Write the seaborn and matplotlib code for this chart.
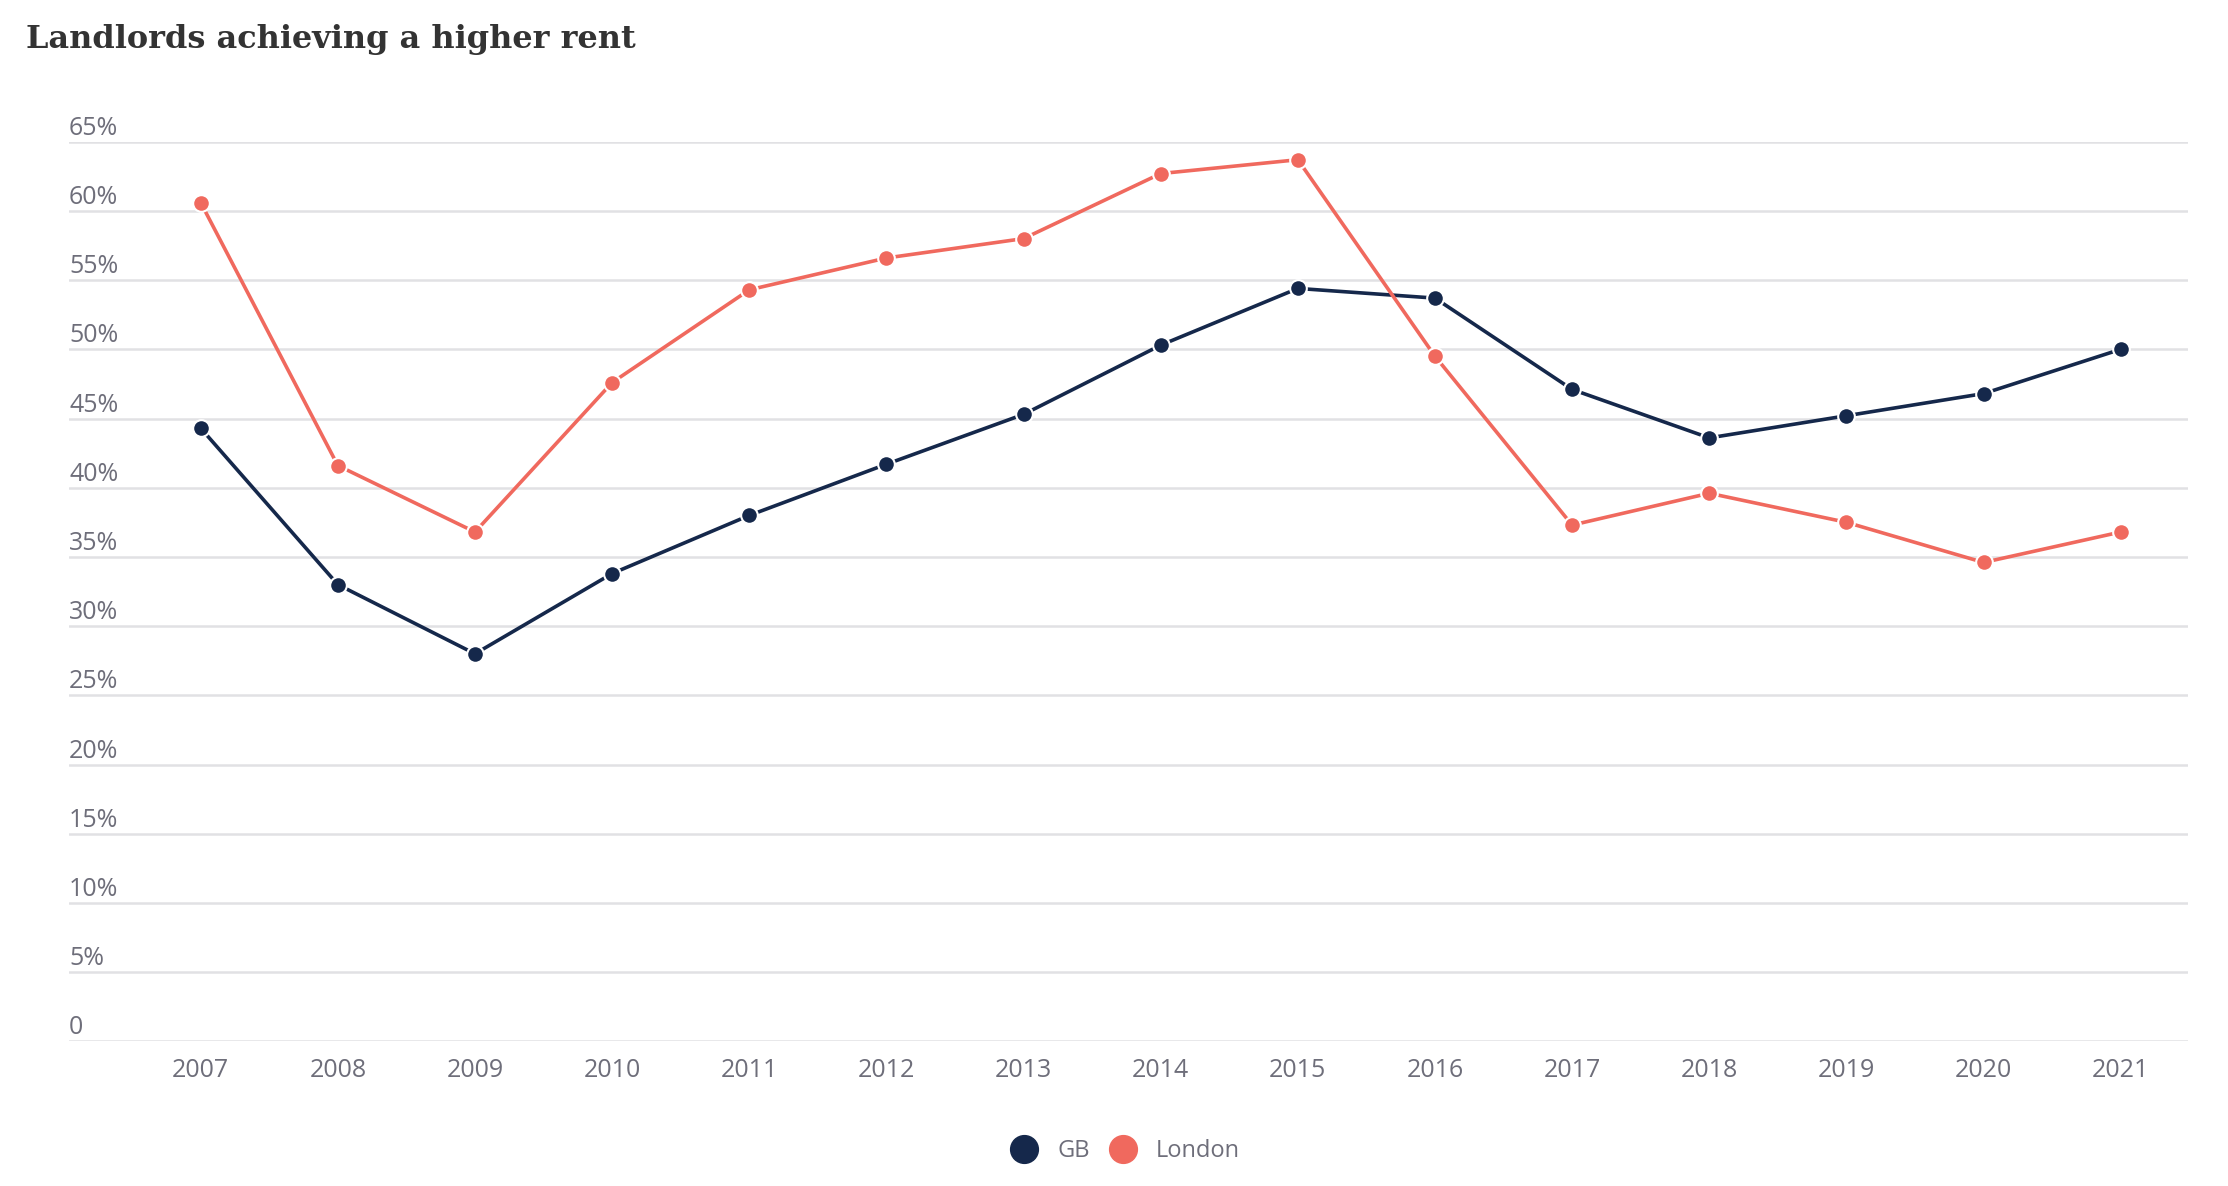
import pandas as pd
import matplotlib.pyplot as plt
import matplotlib.transforms as mtransforms
from matplotlib.lines import Line2D
import seaborn as sns

# Данные с графика (доля арендодателей, %)
years = list(range(2007, 2022))
gb = [44.3, 33.0, 28.0, 33.8, 38.0, 41.7, 45.3, 50.3, 54.4, 53.7, 47.1, 43.6, 45.2, 46.8, 50.0]
london = [60.6, 41.6, 36.8, 47.6, 54.3, 56.6, 58.0, 62.7, 63.7, 49.5, 37.3, 39.6, 37.5, 34.6, 36.8]
y_ticks = list(range(0, 70, 5))
y_labels = ['0'] + [f'{v}%' for v in y_ticks[1:]]

df = pd.DataFrame({
    'year': years * 2,
    'value': gb + london,
    'region': ['GB'] * len(years) + ['London'] * len(years),
})

colors = {'GB': '#15284b', 'London': '#f0695e'}
tick_color = '#6e6e7a'

sns.set_theme(style='white')
plt.rcParams['font.family'] = ['Open Sans', 'DejaVu Sans']

fig = plt.figure(figsize=(22.28, 11.86), dpi=100)
ax = fig.add_axes([0.031, 0.122, 0.951, 0.7585])

# Сетка
for v in y_ticks:
    ax.axhline(v, color='#e1e1e4', lw=1.8, zorder=0)

sns.lineplot(data=df, x='year', y='value', hue='region', palette=colors,
             marker='o', markersize=12, markeredgecolor='white', markeredgewidth=1.5,
             linewidth=2.6, legend=False, ax=ax, zorder=3)

ax.set_xlim(2006.04, 2021.49)
ax.set_ylim(0, 65)
ax.set_xticks(years)
ax.set_xticklabels([str(y) for y in years], fontsize=18, color=tick_color)
ax.tick_params(axis='x', length=0, pad=12)
ax.set_yticks([])
ax.set_xlabel('')
ax.set_ylabel('')
for s in ax.spines.values():
    s.set_visible(False)

# Подписи оси Y над линиями сетки
trans = mtransforms.blended_transform_factory(ax.transAxes, ax.transData)
offset = mtransforms.offset_copy(trans, fig=fig, x=0, y=1, units='dots')
for v, lab in zip(y_ticks, y_labels):
    ax.text(0, v, lab, transform=offset, ha='left', va='bottom',
            fontsize=18, color=tick_color, clip_on=False)

fig.text(0.0117, 0.967, 'Landlords achieving a higher rent', fontsize=23,
         fontweight='bold', family='DejaVu Serif', color='#333333', va='center', ha='left')

handles = [Line2D([], [], ls='none', marker='o', markersize=20,
                  markerfacecolor=colors[k], markeredgecolor=colors[k]) for k in colors]
fig.legend(handles, list(colors), loc='center', bbox_to_anchor=(0.505, 0.0295),
           ncol=2, frameon=False, fontsize=17, labelcolor=tick_color,
           handletextpad=0.8, columnspacing=0.8, handlelength=1.2)

fig.savefig('out.png', dpi=100)
